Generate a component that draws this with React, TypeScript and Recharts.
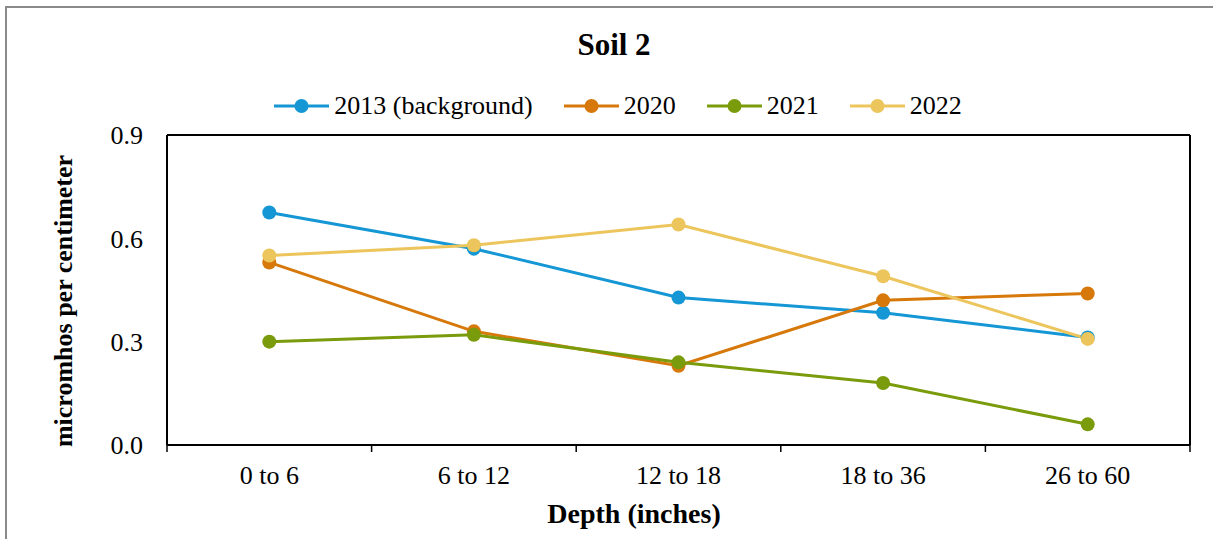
import React from "react";
import {
    LineChart,
    Line,
    XAxis,
    YAxis,
    CartesianGrid,
} from "recharts";

// depth categories along the x axis
const depths = ["0 to 6", "6 to 12", "12 to 18", "18 to 36", "26 to 60"];

// conductivity per depth, one list per sampling year
const bg2013 = [0.675, 0.57, 0.428, 0.384, 0.312];
const y2020 = [0.53, 0.33, 0.23, 0.42, 0.44];
const y2021 = [0.3, 0.32, 0.24, 0.18, 0.06];
const y2022 = [0.55, 0.58, 0.64, 0.49, 0.308];

const yTicks = [0, 0.3, 0.6, 0.9];
const gridTicks = [0.3, 0.6];

const series = [
    { key: "s2013", name: "2013 (background)", color: "#1497D4", values: bg2013 },
    { key: "s2020", name: "2020", color: "#D6780A", values: y2020 },
    { key: "s2021", name: "2021", color: "#7A9B0B", values: y2021 },
    { key: "s2022", name: "2022", color: "#ECC55C", values: y2022 },
];

const chartData = depths.map((d, i) => {
    const row: any = { depth: d, pos: i + 0.5 };
    series.forEach((s) => {
        row[s.key] = s.values[i];
    });
    return row;
});

const font = "'Liberation Serif', 'Times New Roman', serif";
const axisStroke = { stroke: "#000", strokeWidth: 2 };

export default function App() {
    return (
        <div
            style={{
                position: "absolute",
                left: 0,
                top: 0,
                width: 1213,
                height: 539,
                overflow: "hidden",
                background: "#fff",
                fontFamily: font,
            }}
        >
            {/* outer frame, runs past the right/bottom edges */}
            <div
                style={{
                    position: "absolute",
                    left: 5,
                    top: 6,
                    width: 1240,
                    height: 560,
                    border: "2px solid #8a8a8a",
                }}
            />

            <LineChart
                width={1213}
                height={539}
                data={chartData}
                margin={{ top: 134, right: 22, bottom: 0, left: 0 }}
                style={{ position: "absolute", left: 0, top: 0 }}
            >
                <CartesianGrid vertical={false} yAxisId="grid" stroke="#D9D9D9" strokeWidth={2} />
                <XAxis
                    dataKey="pos"
                    type="number"
                    domain={[0, 5]}
                    ticks={[0, 1, 2, 3, 4, 5]}
                    tickFormatter={() => ""}
                    tickSize={7}
                    height={1}
                    axisLine={axisStroke}
                    tickLine={{ stroke: "#000", strokeWidth: 1.5 }}
                />
                <XAxis
                    xAxisId="lbl"
                    dataKey="pos"
                    type="number"
                    domain={[0, 5]}
                    ticks={[0.5, 1.5, 2.5, 3.5, 4.5]}
                    tickFormatter={(v: number) => depths[Math.floor(v)]}
                    axisLine={false}
                    tickLine={false}
                    tickSize={6}
                    tickMargin={14}
                    height={93}
                    tick={{ fill: "#000", fontSize: 26, fontFamily: font }}
                />
                <XAxis
                    xAxisId="top"
                    orientation="top"
                    type="number"
                    domain={[0, 5]}
                    tickFormatter={() => ""}
                    tickLine={false}
                    height={1}
                    axisLine={axisStroke}
                />
                <YAxis
                    type="number"
                    domain={[0, 0.9]}
                    ticks={yTicks}
                    tickFormatter={(v: number) => v.toFixed(1)}
                    width={167}
                    tickLine={false}
                    tickSize={6}
                    tickMargin={18}
                    axisLine={axisStroke}
                    tick={{ fill: "#000", fontSize: 26, fontFamily: font }}
                />
                <YAxis
                    yAxisId="grid"
                    type="number"
                    domain={[0, 0.9]}
                    ticks={gridTicks}
                    hide
                />
                <YAxis
                    yAxisId="right"
                    orientation="right"
                    width={1}
                    tickFormatter={() => ""}
                    tickLine={false}
                    axisLine={axisStroke}
                />
                {series.map((s) => (
                    <Line
                        key={s.key}
                        dataKey={s.key}
                        name={s.name}
                        stroke={s.color}
                        strokeWidth={3}
                        dot={{ r: 7, fill: s.color, stroke: s.color, strokeWidth: 0 }}
                        activeDot={false}
                        isAnimationActive={false}
                    />
                ))}
            </LineChart>

            <svg
                width={1213}
                height={539}
                style={{ position: "absolute", left: 0, top: 0, pointerEvents: "none" }}
            >
                <text x={614} y={55} textAnchor="middle" fontSize={31} fontWeight="bold" fontFamily={font}>
                    Soil 2
                </text>
                <text x={634} y={523} textAnchor="middle" fontSize={28} fontWeight="bold" fontFamily={font}>
                    Depth (inches)
                </text>
                <text
                    transform="translate(72,301) rotate(-90)"
                    textAnchor="middle"
                    fontSize={26}
                    fontWeight="bold"
                    fontFamily={font}
                >
                    micromhos per centimeter
                </text>
            </svg>

            {/* legend */}
            <div
                style={{
                    position: "absolute",
                    left: 0,
                    width: 1236,
                    top: 92,
                    height: 28,
                    display: "flex",
                    justifyContent: "center",
                    alignItems: "center",
                    gap: 31,
                    fontSize: 26,
                    lineHeight: 1,
                }}
            >
                {series.map((s) => (
                    <div key={s.key} style={{ display: "flex", alignItems: "center" }}>
                        <svg width={55} height={20}>
                            <line x1={0} y1={10} x2={55} y2={10} stroke={s.color} strokeWidth={3} />
                            <circle cx={27.5} cy={10} r={7} fill={s.color} />
                        </svg>
                        <span style={{ marginLeft: 5 }}>{s.name}</span>
                    </div>
                ))}
            </div>
        </div>
    );
}
